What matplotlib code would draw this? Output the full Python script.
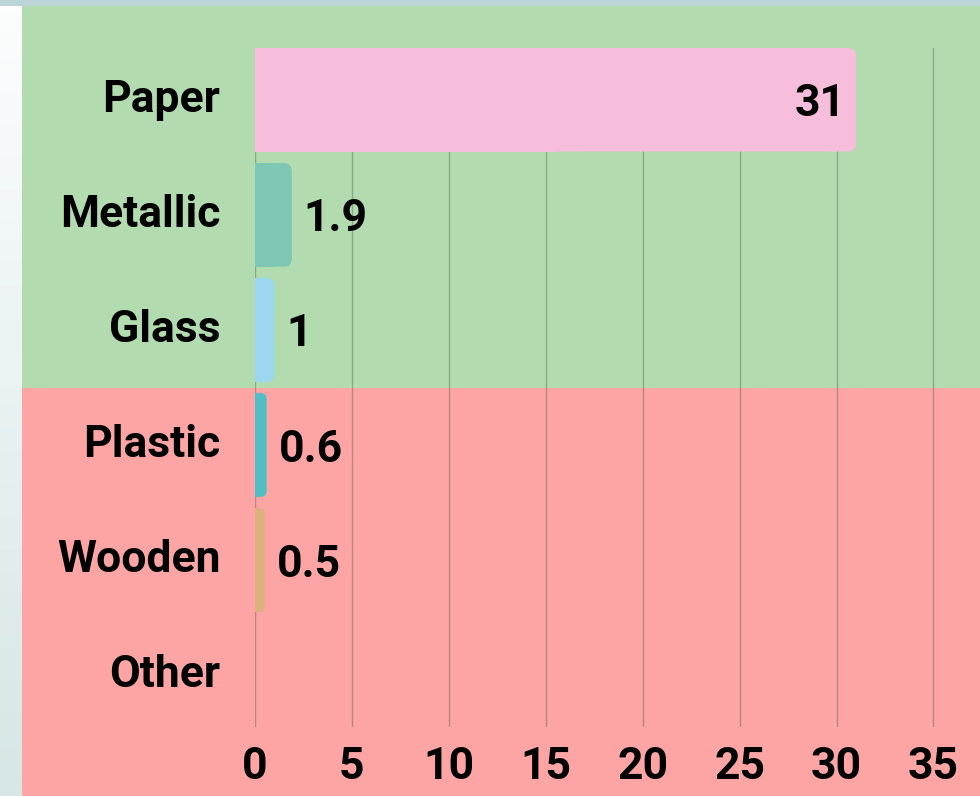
import numpy as np
import matplotlib.pyplot as plt
from matplotlib.patches import FancyBboxPatch, Rectangle

categories = ['Paper', 'Metallic', 'Glass', 'Plastic', 'Wooden', 'Other']
values = [31, 1.9, 1, 0.6, 0.5, 0]
colors = ['#f7bedb', '#7fc7b5', '#9dd6f0', '#4fbfc6', '#dcb17c', '#cccccc']
xticks = [0, 5, 10, 15, 20, 25, 30, 35]

plt.rcParams['font.family'] = ['Roboto', 'DejaVu Sans']
FS = 32

W, H = 980, 796
fig = plt.figure(figsize=(W / 100, H / 100), dpi=100)
fig.patch.set_facecolor('#d6e7e7')

# page background: soft gradient on the left, grey-blue band on top
bg = fig.add_axes([0, 0, 1, 1])
grad = np.linspace(0, 1, 256)[:, None]
top_c = np.array([0.99, 0.995, 0.995])
bot_c = np.array([0.84, 0.9, 0.9])
img = top_c + (bot_c - top_c) * grad[..., None]
img = np.repeat(img, 4, axis=1)
bg.imshow(img, extent=[0, 1, 0, 1], aspect='auto', origin='upper')
bg.add_patch(Rectangle((0, 1 - 6 / H), 1, 6 / H, color='#bcd5d6', lw=0))
bg.set_xlim(0, 1)
bg.set_ylim(0, 1)
bg.axis('off')

# coloured panel (green for the first three, red for the rest)
panel = fig.add_axes([22 / W, 0, 1 - 22 / W, 1 - 6 / H])
split = (796 - 387.5) / (H - 6)
panel.add_patch(Rectangle((0, split), 1, 1 - split, color='#b2dcb0', lw=0))
panel.add_patch(Rectangle((0, 0), 1, split, color='#fca5a4', lw=0))
panel.set_xlim(0, 1)
panel.set_ylim(0, 1)
panel.axis('off')

ax = fig.add_axes([255 / W, 1 - 727 / H, 1 - 255 / W, (727 - 48) / H])
ax.patch.set_alpha(0)
y = np.arange(len(categories))
bars = ax.barh(y, values, height=0.9, color=colors)
ax.set_ylim(len(categories) - 0.55, -0.45)
ax.set_xlim(0, 37.4)

# swap bars for ones with rounded right corners
fig.canvas.draw()
bb = ax.get_window_extent()
px_x = (ax.get_xlim()[1] - ax.get_xlim()[0]) / bb.width
px_y = abs(ax.get_ylim()[1] - ax.get_ylim()[0]) / bb.height
for rect, c in zip(bars, colors):
    x0, y0 = rect.get_x(), rect.get_y()
    w, h = rect.get_width(), rect.get_height()
    rect.remove()
    if w <= 0:
        continue
    r = min(8 * px_x, w / 2)
    ax.add_patch(FancyBboxPatch((x0, y0), w, h,
                                boxstyle=f'round,pad=0,rounding_size={r}',
                                mutation_aspect=px_y / px_x,
                                fc=c, ec='none', zorder=2))
    ax.add_patch(Rectangle((x0, y0), w / 2, h, fc=c, ec='none', zorder=2))

for yi, v in zip(y, values):
    if v == 0:
        continue
    if v > 20:
        ax.text(v - 10 * px_x, yi, f'{v:g}', ha='right', va='center_baseline',
                fontsize=FS, fontweight='bold', zorder=3)
    else:
        ax.text(v + 12 * px_x, yi, f'{v:g}', ha='left', va='center_baseline',
                fontsize=FS, fontweight='bold', zorder=3)

ax.set_yticks(y)
ax.set_yticklabels(categories, fontsize=FS, fontweight='bold', va='center')
ax.set_xticks(xticks)
ax.set_xticklabels([str(t) for t in xticks], fontsize=FS, fontweight='bold')
ax.tick_params(axis='y', length=0, pad=25)
ax.tick_params(axis='x', length=0, pad=14)
ax.grid(axis='x', color='#555555', alpha=0.4, lw=1, zorder=1)
ax.set_axisbelow(True)
for s in ax.spines.values():
    s.set_visible(False)

fig.savefig('out.png', dpi=100, facecolor=fig.get_facecolor())
